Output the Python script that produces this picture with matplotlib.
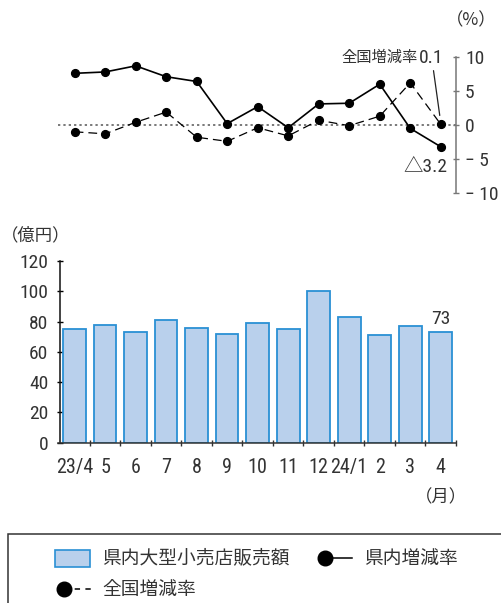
import matplotlib
matplotlib.use("Agg")
import matplotlib.pyplot as plt
from matplotlib import font_manager
from matplotlib.lines import Line2D
from matplotlib.patches import Rectangle

# ---- data ----
months = ["23/4", "5", "6", "7", "8", "9", "10", "11", "12", "24/1", "2", "3", "4"]
sales = [75, 78, 73, 81, 76, 72, 79, 75, 100, 83, 71, 77, 73]          # 億円
pref_rate = [7.6, 7.8, 8.7, 7.1, 6.4, 0.2, 2.7, -0.4, 3.1, 3.2, 6.0, -0.5, -3.2]
nat_rate = [-1.0, -1.3, 0.4, 1.9, -1.8, -2.4, -0.4, -1.6, 0.7, -0.1, 1.3, 6.2, 0.1]
rate_ticks = [-10, -5, 0, 5, 10]
sales_ticks = [0, 20, 40, 60, 80, 100, 120]

# ---- fonts: narrow face for numerals, CJK face for Japanese ----
names = {f.name for f in font_manager.fontManager.ttflist}
num_font = next((n for n in ("Liberation Sans Narrow", "Roboto Condensed",
                             "Archivo Narrow", "Asap Condensed", "Liberation Sans")
                 if n in names), "DejaVu Sans")
FAM = [num_font, "Noto Sans CJK JP", "DejaVu Sans"]
JP = ["Noto Sans CJK JP", "DejaVu Sans"]
plt.rcParams["font.family"] = FAM

TXT = "#333333"
BAR_FACE = "#b9d0ec"
BAR_EDGE = "#2a90d4"

W, H = 502, 603
fig = plt.figure(figsize=(W / 100, H / 100), dpi=100)

def frac(x0, y0, x1, y1):
    return [x0 / W, 1 - y1 / H, (x1 - x0) / W, (y1 - y0) / H]

x = list(range(len(months)))
XLIM = (-0.55, 12.5)

# ---- upper panel: growth rates ----
ax1 = fig.add_axes(frac(57.9, 57, 456, 193))
ax1.set_xlim(*XLIM)
ax1.set_ylim(-10, 10)
for s in ("top", "left", "bottom"):
    ax1.spines[s].set_visible(False)
ax1.spines["right"].set_color("#777777")
ax1.spines["right"].set_linewidth(1.1)
ax1.yaxis.tick_right()
ax1.set_yticks(rate_ticks)
ax1.set_yticklabels([("\u2212 " + str(-v)) if v < 0 else str(v) for v in rate_ticks])
ax1.tick_params(axis="y", direction="inout", length=5, width=1, color="#777777",
                labelsize=14, labelcolor=TXT, pad=4)
ax1.set_xticks([])
ax1.axhline(0, color="#555555", lw=1.1, ls=(0, (1.5, 2)), zorder=1)

ax1.plot(x, nat_rate, color="black", lw=0.9, ls=(0, (7, 4)), marker="o",
         markersize=5.6, zorder=3)
ax1.plot(x, pref_rate, color="black", lw=1.2, marker="o", markersize=5.6, zorder=4)

# callouts for the latest month
ax1.text(12.08, 9.9, f"{nat_rate[-1]}", ha="right", va="center",
         fontsize=14, color=TXT)
ax1.text(11.25, 9.9, "全国増減率", ha="right", va="center",
         fontsize=11, color=TXT, family=JP)
ax1.annotate("", xy=(x[-1] - 0.02, nat_rate[-1] + 0.9), xytext=(11.75, 8.4),
             arrowprops=dict(arrowstyle="-", color="#222222", lw=0.9))
ax1.text(12.22, -6.2, f"△{abs(pref_rate[-1])}", ha="right", va="center",
         fontsize=14, color=TXT)
fig.text(471 / W, 1 - 20 / H, "（%）", ha="center", va="center", fontsize=12.5,
         color=TXT, family=JP)

# ---- lower panel: sales ----
ax2 = fig.add_axes(frac(57.9, 261, 456, 442.7))
ax2.set_xlim(*XLIM)
ax2.set_ylim(0, 120)
ax2.bar(x, sales, width=0.74, color=BAR_FACE, edgecolor=BAR_EDGE, linewidth=1.3, zorder=2)
for s in ("top", "right"):
    ax2.spines[s].set_visible(False)
ax2.spines["left"].set_position(("data", -0.48))
ax2.spines["left"].set_color("#111111")
ax2.spines["bottom"].set_color("#333333")
ax2.spines["left"].set_linewidth(1.1)
ax2.spines["bottom"].set_linewidth(1.1)
ax2.set_yticks(sales_ticks)
ax2.tick_params(axis="y", direction="inout", length=5, width=1, labelsize=14,
                labelcolor=TXT, pad=6)
ax2.set_xticks(x)
ax2.set_xticklabels(months)
ax2.set_xticks([i + 0.5 for i in x], minor=True)
ax2.tick_params(axis="x", which="major", length=0, labelsize=14.5, labelcolor=TXT, pad=11)
ax2.tick_params(axis="x", which="minor", direction="inout", length=5, width=1,
                color="#333333")
ax2.text(x[-1], sales[-1] + 2.5, str(sales[-1]), ha="center", va="bottom",
         fontsize=14, color=TXT)
fig.text(36 / W, 1 - 235 / H, "（億円）", ha="center", va="center", fontsize=12.5,
         color=TXT, family=JP)
fig.text(441 / W, 1 - 497 / H, "（月）", ha="center", va="center", fontsize=12.5,
         color=TXT, family=JP)

# ---- legend box ----
fig.patches.append(Rectangle((8 / W, -0.05), 1.0, 1 - 534 / H + 0.05,
                             transform=fig.transFigure, fill=False,
                             edgecolor="#333333", lw=1.1))
fig.patches.append(Rectangle((55 / W, 1 - 567 / H), 35 / W, 17 / H,
                             transform=fig.transFigure, facecolor=BAR_FACE,
                             edgecolor=BAR_EDGE, lw=1.2))
fig.text(102 / W, 1 - 558 / H, "県内大型小売店販売額", ha="left", va="center",
         fontsize=13.5, color=TXT, family=JP)
fig.lines.append(Line2D([325 / W, 352 / W], [1 - 558 / H] * 2, transform=fig.transFigure,
                        color="black", lw=1.1))
fig.lines.append(Line2D([325 / W], [1 - 558 / H], transform=fig.transFigure,
                        color="black", marker="o", markersize=10.5, ls="none"))
fig.text(364 / W, 1 - 558 / H, "県内増減率", ha="left", va="center",
         fontsize=13.5, color=TXT, family=JP)
fig.lines.append(Line2D([64 / W, 92 / W], [1 - 589 / H] * 2, transform=fig.transFigure,
                        color="black", lw=1.1, ls=(0, (3.5, 3.5))))
fig.lines.append(Line2D([64 / W], [1 - 589 / H], transform=fig.transFigure,
                        color="black", marker="o", markersize=10.5, ls="none"))
fig.text(102 / W, 1 - 589 / H, "全国増減率", ha="left", va="center",
         fontsize=13.5, color=TXT, family=JP)

fig.savefig("out.png", dpi=100)
